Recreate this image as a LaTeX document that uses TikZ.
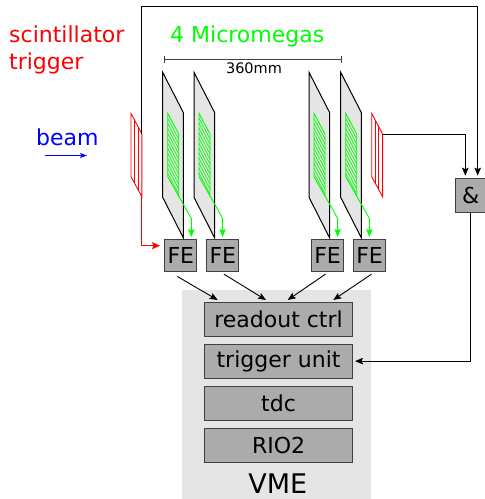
\documentclass[tikz,border=0pt]{standalone}
\usepackage{fontspec}
\setmainfont{DejaVu Sans}
\usetikzlibrary{arrows.meta, positioning}

\definecolor{panelgray}{gray}{0.898}
\definecolor{boxgray}{gray}{0.67}
\tikzset{
  boxnode/.style={draw=black!75, line width=1.1pt, fill=boxgray, inner sep=0pt, anchor=north west, font=\fontsize{22}{22}\selectfont},
  feline/.style={-{Stealth[length=8pt,width=6.5pt,inset=1.5pt]}, line width=0.9pt},
  grnline/.style={green, line width=0.9pt},
  redline/.style={red, line width=0.9pt}
}
% one tilted detector plane with its strips
\newcommand{\plane}[1]{
  \draw[black, line width=1pt, fill=panelgray] (#1,72.3) -- (#1+20.7,112.7) -- (#1+20.7,238) -- (#1,197.3) -- cycle;
  \draw[grnline] (#1+5,113.3) -- (#1+16,134) -- (#1+16,196) -- (#1+5,176.7) -- cycle;
  \foreach \y in {5,10,...,60} {
    \draw[grnline, line width=0.7pt] (#1+5,113.3+\y) -- (#1+16,134+\y);
  }
}
% one scintillator
\newcommand{\scint}[1]{
  \draw[redline] (#1,113.3) -- (#1+10.9,134) -- (#1+10.9,196.7) -- (#1,176.7) -- cycle;
  \draw[redline] (#1+3.6,120.2) -- (#1+3.6,183.4);
  \draw[redline] (#1+7.2,127) -- (#1+7.2,190);
}

\begin{document}
\begin{tikzpicture}[x=1pt, y=-1pt]
    \useasboundingbox (0,0) rectangle (485,499);

    % VME crate
    \fill[panelgray] (182.3,290) rectangle (371,499);
    \node[font=\fontsize{27}{27}\selectfont] (vme) at (277.7,484) {VME};

    % Detector planes
    \plane{162.7}
    \plane{194}
    \plane{309}
    \plane{340.7}

    % Scintillators
    \scint{131}
    \scint{371.7}
    \coordinate (scintlin) at (141.9,134);
    \coordinate (scintlout) at (141.9,196.7);
    \coordinate (scintrout) at (382.6,134);

    % Front end cards
    \node[boxnode, minimum width=32pt, minimum height=32pt] (fea) at (164.3,239.3) {FE};
    \node[boxnode, minimum width=32pt, minimum height=32pt] (feb) at (206.3,239.3) {FE};
    \node[boxnode, minimum width=32pt, minimum height=32pt] (fec) at (311,239.3) {FE};
    \node[boxnode, minimum width=32pt, minimum height=32pt] (fed) at (353,239.3) {FE};

    % VME modules
    \node[boxnode, minimum width=147.4pt, minimum height=33.7pt] (readout) at (204.3,302.3) {readout ctrl};
    \node[boxnode, minimum width=147.4pt, minimum height=33.7pt] (trigunit) at (204.3,344.3) {trigger unit};
    \node[boxnode, minimum width=147.4pt, minimum height=33.7pt] (tdc) at (204.3,386.3) {tdc};
    \node[boxnode, minimum width=147.4pt, minimum height=33.7pt] (rio) at (204.3,428) {RIO2};

    % Coincidence
    \node[boxnode, minimum width=30.8pt, minimum height=33.7pt] (and) at (454.7,178.3) {\&};

    % Labels
    \node[red, anchor=base west, inner sep=0pt, font=\fontsize{22}{22}\selectfont] (scintlabel) at (9,42.7) {scintillator};
    \node[red, anchor=base west, inner sep=0pt, font=\fontsize{22}{22}\selectfont] (triglabel) at (9,69) {trigger};
    \node[green, anchor=base west, inner sep=0pt, font=\fontsize{22}{22}\selectfont] (mmlabel) at (170,42.7) {4 Micromegas};
    \node[blue, anchor=base west, inner sep=0pt, font=\fontsize{22}{22}\selectfont] (beamlabel) at (36,145) {beam};
    \node[anchor=base, inner sep=0pt, font=\fontsize{14.5}{14.5}\selectfont] (sizelabel) at (254,73) {360mm};

    % Beam arrow
    \coordinate (beamstart) at (45,155.5);
    \coordinate (beamend) at (87,155.5);
    \draw[-{Stealth[length=7pt,width=5pt,inset=1.5pt]}, blue, line width=0.8pt] (beamstart) -- (beamend);

    % Size bar
    \coordinate (sizea) at (164,59);
    \coordinate (sizeb) at (341.5,59);
    \draw[{Bar[width=7pt]}-{Bar[width=7pt]}, black!75, line width=1pt] (sizea) -- (sizeb);

    % Strip readout
    \foreach \x in {178.7, 210, 325, 356.7} {
      \draw[-{Stealth[length=8pt,width=6.5pt,inset=1.5pt]}, grnline] (\x,196) -- (\x+12.6,218.3) -- (\x+12.6,237);
    }

    % Trigger lines
    \coordinate (redend) at (160,245.7);
    \coordinate (topcorner) at (141.9,6.7);
    \coordinate (andtipa) at (465.3,175.7);
    \coordinate (andtipb) at (477.7,175.7);
    \coordinate (unittip) at (355,361.1);
    \draw[-{Stealth[length=8pt,width=7pt,inset=1.5pt]}, redline] (scintlout) |- (redend);
    \draw[feline] (scintlin) -- (topcorner) -| (andtipb);
    \draw[feline] (scintrout) -| (andtipa);
    \draw[feline] (and.south) |- (unittip);

    % Readout lines
    \coordinate (enda) at (217.7,300);
    \coordinate (endb) at (266,300);
    \coordinate (endc) at (287.7,300);
    \coordinate (endd) at (333.3,300);
    \draw[feline] ([xshift=-3.6pt,yshift=-4pt]fea.south) -- (enda);
    \draw[feline] ([xshift=1pt,yshift=-1.7pt]feb.south) -- (endb);
    \draw[feline] ([xshift=-2pt,yshift=-1.7pt]fec.south) -- (endc);
    \draw[feline] ([xshift=2pt,yshift=-1.7pt]fed.south) -- (endd);
\end{tikzpicture}
\end{document}
